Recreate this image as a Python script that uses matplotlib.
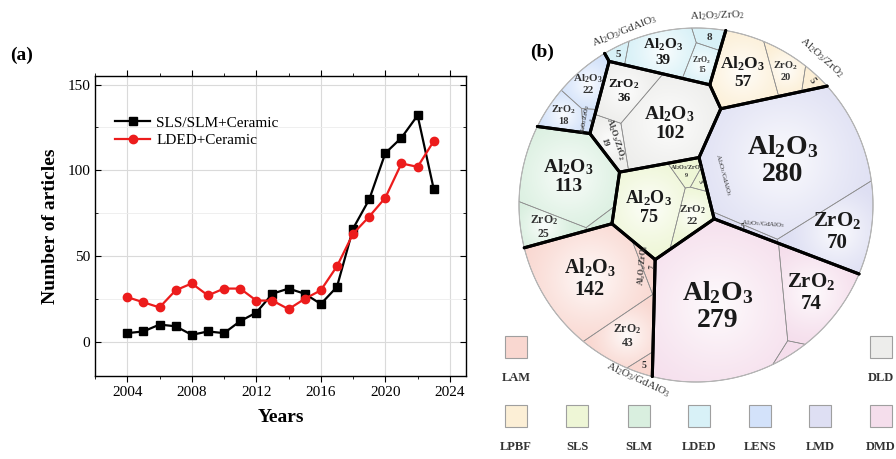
import re
import numpy as np
import matplotlib
matplotlib.use("Agg")
import matplotlib.pyplot as plt
from matplotlib.patches import Polygon, Rectangle, Circle
from matplotlib.collections import LineCollection
from matplotlib.ticker import MultipleLocator

plt.rcParams["font.family"] = ["Liberation Serif", "DejaVu Serif"]
plt.rcParams["mathtext.fontset"] = "custom"
plt.rcParams["mathtext.rm"] = "Liberation Serif"
plt.rcParams["mathtext.bf"] = "Liberation Serif:bold"
plt.rcParams["mathtext.default"] = "regular"

# ---------------- (a) articles per year ----------------
years = list(range(2004, 2024))
sls_slm_ceramic = [5, 6, 10, 9, 4, 6, 5, 12, 17, 28, 31, 28, 22, 32, 66, 83, 110, 119, 132, 89]
lded_ceramic = [26, 23, 20, 30, 34, 27, 31, 31, 24, 24, 19, 25, 30, 44, 63, 73, 84, 104, 102, 117]

# ---------------- (b) articles per process / material ----------------
processes = ["LAM", "DLD", "LPBF", "SLS", "SLM", "LDED", "LENS", "LMD", "DMD"]

lam_materials = ["Al2O3", "Al2O3/ZrO2", "ZrO2", "Al2O3/GdAlO3"]
lam_articles = [142, 7, 43, 5]
dld_materials = ["Al2O3", "ZrO2", "Al2O3/ZrO2"]
dld_articles = [102, 36, 19]
lpbf_materials = ["Al2O3", "ZrO2", "Al2O3/ZrO2"]
lpbf_articles = [57, 20, 5]
sls_materials = ["Al2O3", "ZrO2", "Al2O3/ZrO2", "Al2O3/GdAlO3"]
sls_articles = [75, 22, 9, 3]
slm_materials = ["Al2O3", "ZrO2", ""]
slm_articles = [113, 25, 4]
lded_materials = ["Al2O3", "ZrO2", "Al2O3/ZrO2", "Al2O3/GdAlO3"]
lded_articles = [39, 15, 8, 5]
lens_materials = ["Al2O3", "ZrO2", "Al2O3/ZrO2"]
lens_articles = [22, 18, 4]
lmd_materials = ["Al2O3", "ZrO2", "Al2O3/GdAlO3"]
lmd_articles = [280, 70, 5]
dmd_materials = ["Al2O3", "ZrO2", ""]
dmd_articles = [279, 74, 4]

materials = dict(zip(processes, [lam_materials, dld_materials, lpbf_materials, sls_materials,
                                 slm_materials, lded_materials, lens_materials, lmd_materials,
                                 dmd_materials]))
articles = dict(zip(processes, [lam_articles, dld_articles, lpbf_articles, sls_articles,
                                slm_articles, lded_articles, lens_articles, lmd_articles,
                                dmd_articles]))

# fill colours of each process
colors = {"LAM": "#f9d7d0", "DLD": "#ededeb", "LPBF": "#fcefd6", "SLS": "#eef6d6",
          "SLM": "#d9efdf", "LDED": "#d8f1f7", "LENS": "#d3e2fa", "LMD": "#dedff3",
          "DMD": "#f5deec"}

# sites of the treemap cells (unit disk coordinates)
group_sites = {"LAM": (-0.54, -0.55), "DLD": (-0.19, 0.47), "LPBF": (0.42, 0.75),
               "SLS": (-0.10, -0.02), "SLM": (-0.71, 0.07), "LDED": (-0.09, 0.90),
               "LENS": (-0.64, 0.59), "LMD": (0.55, 0.14), "DMD": (0.28, -0.57)}
cell_sites = {
    "LAM": [(-0.59, -0.45), (-0.25, -0.32), (-0.38, -0.76), (-0.28, -0.92)],
    "DLD": [(-0.09, 0.40), (-0.36, 0.63), (-0.46, 0.34)],
    "LPBF": [(0.28, 0.71), (0.50, 0.77), (0.63, 0.75)],
    "SLS": [(-0.26, -0.03), (0.02, -0.10), (-0.02, 0.14), (0.07, 0.09)],
    "SLM": [(-0.74, 0.17), (-0.88, -0.19), (-0.53, -0.11)],
    "LDED": [(-0.19, 0.85), (0.04, 0.76), (0.10, 0.94), (-0.40, 0.89)],
    "LENS": [(-0.60, 0.68), (-0.78, 0.48), (-0.61, 0.49)],
    "LMD": [(0.53, 0.25), (0.81, -0.20), (0.36, -0.15)],
    "DMD": [(0.11, -0.54), (0.64, -0.49), (0.57, -0.83)],
}
# label style per cell: (mode, fontsize, rotation)
cell_style = {
    "LAM": [("full", 14.5, 0), ("full", 5.5, 85), ("full", 8.5, 0), ("num", 7, 0)],
    "DLD": [("full", 14, 0), ("full", 9.5, 0), ("full", 6, -72)],
    "LPBF": [("full", 12.5, 0), ("full", 7.5, 0), ("num", 7, -55)],
    "SLS": [("full", 13, 0), ("full", 8, 0), ("full", 4.5, 0), ("num", 5, -60)],
    "SLM": [("full", 14, 0), ("full", 8.5, 0), ("none", 0, 0)],
    "LDED": [("full", 11, 0), ("full", 5.5, 0), ("num", 8, 0), ("num", 8, 0)],
    "LENS": [("full", 8, 0), ("full", 7.5, 0), ("full", 4, 80)],
    "LMD": [("full", 20, 0), ("full", 15, 0), ("num", 5.5, 0)],
    "DMD": [("full", 20, 0), ("full", 15, 0), ("none", 0, 0)],
}
# material names written beside small cells: (process, cell, x, y, rotation, size)
callouts = [("LDED", 3, -0.40, 0.98, 22, 8), ("LDED", 2, 0.12, 1.07, 2, 8),
            ("LPBF", 2, 0.71, 0.83, -42, 8), ("LAM", 3, -0.33, -0.99, -25, 8),
            ("SLS", 3, 0.15, 0.17, -75, 5), ("LMD", 2, 0.38, -0.11, -4, 5)]


def chem(name):
    return re.sub(r"(\d)", r"$_\1$", name)


def poly_area(p):
    if len(p) < 3:
        return 0.0
    x, y = p[:, 0], p[:, 1]
    return 0.5 * abs(np.dot(x, np.roll(y, -1)) - np.dot(np.roll(x, -1), y))


def poly_centroid(p):
    x, y = p[:, 0], p[:, 1]
    xn, yn = np.roll(x, -1), np.roll(y, -1)
    c = x * yn - xn * y
    a = c.sum() / 2
    return np.array([((x + xn) * c).sum() / (6 * a), ((y + yn) * c).sum() / (6 * a)])


def clip_halfplane(poly, a, b):
    # keep the part of a convex polygon where a.x <= b
    d = poly @ a - b
    inside = d <= 0
    if inside.all():
        return poly
    if not inside.any():
        return poly[:0]
    nxt = np.roll(poly, -1, axis=0)
    dn = np.roll(d, -1)
    cross = inside != (dn <= 0)
    with np.errstate(divide="ignore", invalid="ignore"):
        t = np.where(cross, d / (d - dn), 0.0)
    hit = poly + t[:, None] * (nxt - poly)
    pts = np.stack([poly, hit], axis=1).reshape(-1, 2)
    keep = np.stack([inside, cross], axis=1).reshape(-1)
    return pts[keep]


def power_cells(sites, w, region):
    cells = []
    for i in range(len(sites)):
        poly = region
        for j in range(len(sites)):
            if i == j:
                continue
            a = 2 * (sites[j] - sites[i])
            b = sites[j] @ sites[j] - sites[i] @ sites[i] - w[j] + w[i]
            poly = clip_halfplane(poly, a, b)
            if len(poly) == 0:
                break
        cells.append(poly)
    return cells


def voronoi_treemap(sites, values, region, iters=300):
    # fixed sites, weights tuned until every cell area follows its value
    sites = np.array(sites, float)
    w = np.zeros(len(sites))
    target = np.asarray(values, float) / np.sum(values) * poly_area(region)
    for _ in range(iters):
        cells = power_cells(sites, w, region)
        areas = np.array([poly_area(c) for c in cells])
        w += 0.35 * (target - areas)
    return power_cells(sites, w, region)


def add_glow(ax, poly, center, radius, strength):
    n = 80
    cx, cy = center
    xs = np.linspace(cx - radius, cx + radius, n)
    ys = np.linspace(cy - radius, cy + radius, n)
    xx, yy = np.meshgrid(xs, ys)
    r = np.hypot(xx - cx, yy - cy) / radius
    img = np.ones((n, n, 4))
    img[..., 3] = strength * np.clip(1 - r, 0, 1) ** 1.3
    im = ax.imshow(img, extent=(cx - radius, cx + radius, cy - radius, cy + radius),
                   origin="lower", interpolation="bilinear", aspect="auto", zorder=2)
    im.set_clip_path(Polygon(poly, closed=True, transform=ax.transData))


fig = plt.figure(figsize=(8.96, 4.59), dpi=100)

# ---------------- panel (a) ----------------
ax = fig.add_axes([95 / 896, 83 / 459, 371 / 896, 300 / 459])
ax.plot(years, sls_slm_ceramic, color="black", marker="s", ms=5.5, lw=1.6,
        label="SLS/SLM+Ceramic", zorder=3)
ax.plot(years, lded_ceramic, color="#ec1c1c", marker="o", ms=6, lw=1.6,
        label="LDED+Ceramic", zorder=3)
ax.set_xlim(2002, 2025)
ax.set_ylim(-20, 155)
ax.xaxis.set_major_locator(MultipleLocator(4))
ax.xaxis.set_minor_locator(MultipleLocator(2))
ax.yaxis.set_major_locator(MultipleLocator(50))
ax.yaxis.set_minor_locator(MultipleLocator(25))
ax.grid(which="major", color="#dadada", lw=0.8)
ax.grid(which="minor", axis="y", color="#ededed", lw=0.6)
ax.set_axisbelow(True)
ax.tick_params(which="both", top=True, right=True, direction="in", labelsize=11)
ax.tick_params(axis="x", which="both", bottom=True, direction="out")
ax.tick_params(which="major", length=4)
ax.tick_params(which="minor", length=2.5)
for s in ax.spines.values():
    s.set_linewidth(1.0)
ax.set_xlabel("Years", fontsize=14, fontweight="bold", labelpad=7)
ax.set_ylabel("Number of articles", fontsize=14, fontweight="bold", labelpad=6)
ax.legend(loc="upper left", bbox_to_anchor=(0.038, 0.887), frameon=False, fontsize=11,
          handlelength=2.3, handletextpad=0.4, labelspacing=0.25, borderaxespad=0)
fig.text(22 / 896, 1 - 55 / 459, "(a)", fontsize=14, fontweight="bold", ha="center", va="center")

# ---------------- panel (b) ----------------
bx = fig.add_axes([490 / 896, 0, 406 / 896, 1])
bx.set_axis_off()
fig.text(542 / 896, 1 - 52 / 459, "(b)", fontsize=14, fontweight="bold", ha="center", va="center")

theta = np.linspace(0, 2 * np.pi, 360, endpoint=False)
disk = np.column_stack([np.cos(theta), np.sin(theta)])

group_vals = [sum(articles[p]) for p in processes]
groups = voronoi_treemap([group_sites[p] for p in processes], group_vals, disk, iters=400)

thick = []
for p, gpoly in zip(processes, groups):
    cells = voronoi_treemap(cell_sites[p], articles[p], gpoly, iters=300)
    for k, (cell, mat, val) in enumerate(zip(cells, materials[p], articles[p])):
        if len(cell) < 3:
            continue
        bx.add_patch(Polygon(cell, closed=True, facecolor=colors[p], edgecolor="none", zorder=1))
        bx.add_patch(Polygon(cell, closed=True, facecolor="none", edgecolor="#8c8c8c",
                             lw=0.5, zorder=3))
        ctr = poly_centroid(cell)
        a = poly_area(cell)
        if val >= 15:
            add_glow(bx, cell, ctr, 1.4 * np.sqrt(a / np.pi), 0.9)
        mode, fs, rot = cell_style[p][k]
        if mode == "full":
            txt = f"{chem(mat)}\n{val}"
        elif mode == "num":
            txt = f"{val}"
        else:
            continue
        bx.text(ctr[0], ctr[1], txt, fontsize=fs, fontweight="bold", rotation=rot,
                ha="center", va="center", multialignment="center", linespacing=1.1,
                color="#1a1a1a" if fs >= 9 else "#333333", zorder=6)
    # outline of the process region, without the outer rim
    nxt = np.roll(gpoly, -1, axis=0)
    mids = np.linalg.norm((gpoly + nxt) / 2, axis=1)
    for a0, a1, m in zip(gpoly, nxt, mids):
        if m < 0.995:
            thick.append([a0, a1])

bx.add_patch(Circle((0, 0), 1, facecolor="none", edgecolor="#b5b5b5", lw=0.8, zorder=3))
bx.add_collection(LineCollection(thick, colors="black", linewidths=2.2,
                                 capstyle="round", zorder=4))

for p, k, x, y, rot, fs in callouts:
    bx.text(x, y, chem(materials[p][k]), fontsize=fs, rotation=rot, ha="center",
            va="center", color="#333333", zorder=5)

# legend of the processes
legend_slots = {"LAM": (-1.017, -0.802), "DLD": (1.045, -0.802),
                "LPBF": (-1.017, -1.192), "SLS": (-0.672, -1.192), "SLM": (-0.322, -1.192),
                "LDED": (0.017, -1.192), "LENS": (0.362, -1.192), "LMD": (0.701, -1.192),
                "DMD": (1.045, -1.192)}
box = 0.124
for p in processes:
    x, y = legend_slots[p]
    bx.add_patch(Rectangle((x - box / 2, y - box / 2), box, box, facecolor=colors[p],
                           edgecolor="#9f9f9f", lw=0.8, zorder=3))
    bx.text(x, y - 0.178, p, fontsize=9, fontweight="bold", ha="center", va="center",
            color="#333333")

bx.set_xlim((490 - 696) / 177, (896 - 696) / 177)
bx.set_ylim((205 - 459) / 177, 205 / 177)

fig.savefig("out.png", dpi=100)
